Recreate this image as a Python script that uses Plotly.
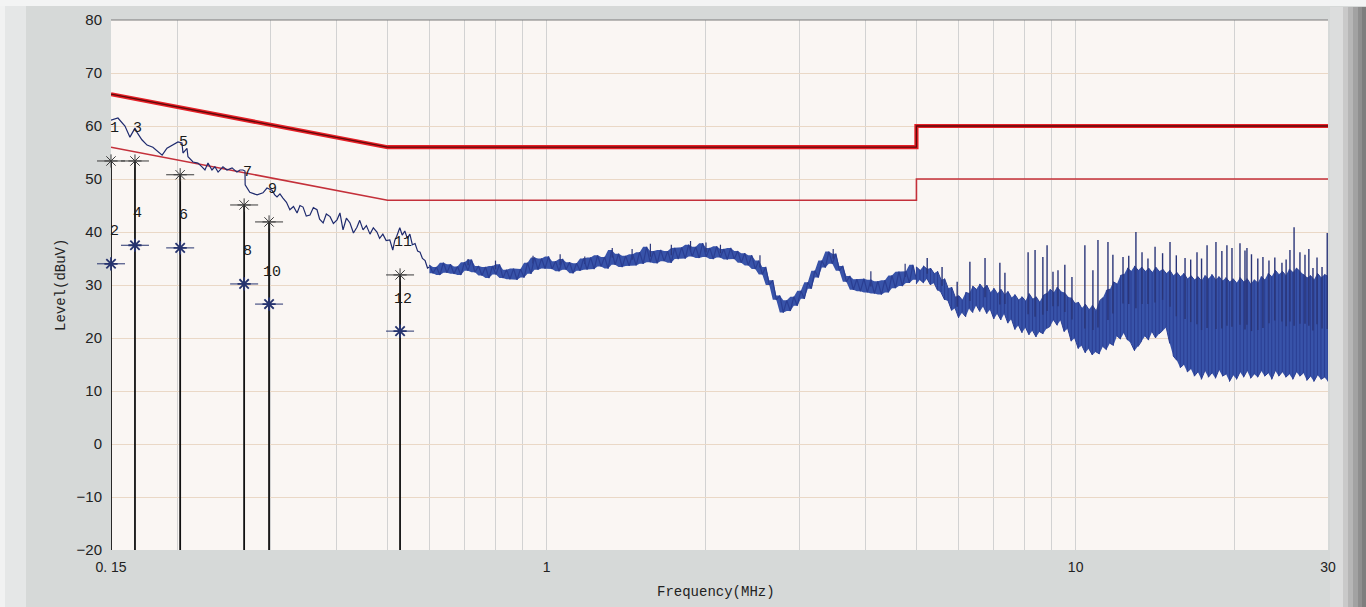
import numpy as np
import plotly.graph_objects as go

# ---- Conducted emission scan, 0.15 - 0.6 MHz (single peak trace) ----
scan_freq = [
    0.150, 0.1546, 0.1594, 0.1629, 0.1665, 0.168, 0.1716, 0.1755, 0.180, 0.1857,
    0.1874, 0.1914, 0.1956, 0.2008, 0.2043, 0.2052, 0.2088, 0.2097, 0.2144, 0.219,
    0.2229, 0.2258, 0.2288, 0.2328, 0.2358, 0.2391, 0.2442, 0.2485, 0.2541, 0.2595,
    0.263, 0.2664, 0.2688, 0.2690, 0.2745, 0.2834, 0.2907, 0.2958, 0.3023, 0.3060,
    0.309, 0.3130, 0.3171, 0.322, 0.3268, 0.332, 0.3372, 0.3415, 0.3461, 0.351,
    0.3567, 0.362, 0.3678, 0.372, 0.3777, 0.383, 0.3893, 0.395, 0.4013, 0.4064,
    0.4119, 0.418, 0.4246, 0.431, 0.4376, 0.443, 0.4494, 0.456, 0.4632, 0.470,
    0.4775, 0.483, 0.4899, 0.497, 0.5049, 0.5115, 0.5160, 0.5204, 0.5274, 0.533,
    0.539, 0.545, 0.551, 0.557, 0.5636, 0.570, 0.576, 0.582, 0.5888, 0.595, 0.600,
]
scan_level = [
    61.1, 61.5, 60.0, 57.9, 59.6, 58.8, 57.4, 56.4, 56.0, 54.9,
    54.5, 55.8, 56.4, 57.0, 56.8, 54.9, 55.8, 54.2, 53.2, 53.0,
    52.3, 51.7, 53.0, 51.7, 52.3, 51.3, 52.3, 51.7, 52.1, 51.3,
    51.7, 51.7, 51.5, 48.9, 47.5, 47.0, 47.4, 48.3, 47.9, 47.0,
    46.6, 47.2, 46.4, 45.6, 44.2, 44.8, 43.6, 45.0, 44.7, 43.0,
    43.2, 44.6, 44.2, 42.4, 41.7, 43.4, 42.9, 41.6, 42.3, 43.6,
    40.4, 42.6, 41.7, 39.8, 40.9, 42.2, 40.4, 41.2, 39.6, 40.8,
    40.0, 38.8, 39.6, 38.4, 38.5, 36.6, 38.4, 39.2, 40.8, 39.4,
    40.2, 38.8, 39.6, 37.6, 37.8, 36.4, 36.2, 35.0, 34.6, 33.2, 33.4,
]

# ---- 0.6 - 5 MHz sweep (one reading per sweep step) ----
mid_level = [
    33.8, 32.2, 33.4, 31.9, 34.2, 32.3, 33.9, 32.1, 33.5, 31.9,
    34.3, 32.7, 34.8, 32.4, 33.6, 31.8, 33.4, 31.3, 33.6, 32.0,
    33.9, 31.3, 32.9, 31.1, 33.1, 31.0, 33.0, 31.4, 34.2, 32.1,
    35.2, 32.9, 35.0, 33.1, 35.4, 33.0, 34.5, 32.6, 34.9, 32.9,
    34.3, 32.2, 34.1, 32.7, 35.0, 32.9, 35.2, 33.0, 35.6, 33.5,
    35.3, 33.1, 36.6, 33.8, 35.9, 33.4, 35.5, 33.6, 35.8, 33.7,
    36.2, 34.0, 37.2, 34.3, 36.4, 34.1, 36.6, 34.5, 36.4, 34.2,
    37.0, 34.9, 37.1, 35.0, 37.6, 35.4, 37.2, 35.1, 37.9, 35.3,
    37.0, 34.9, 37.3, 35.2, 36.8, 34.8, 37.0, 34.9, 36.4, 34.2,
    36.0, 33.7, 35.6, 33.0, 34.6, 32.0, 33.4, 30.0, 30.9, 27.2,
    28.0, 24.8, 27.1, 25.1, 27.8, 26.1, 28.9, 27.4, 30.5, 29.3,
    32.7, 31.4, 34.6, 33.3, 36.3, 34.0, 35.9, 32.7, 33.6, 30.6,
    31.7, 29.1, 31.1, 28.8, 31.2, 28.6, 31.0, 28.4, 30.7, 28.2,
    30.9, 28.6, 31.8, 29.4, 32.5, 29.8, 32.6, 30.4, 33.8, 31.0,
]
mid_freq = np.geomspace(0.6, 5.0, len(mid_level))

# small peaks on the 0.6 - 5 MHz floor
mid_spike_freq = [0.71, 0.80, 0.942, 1.06, 1.18, 1.33, 1.45, 1.57, 1.72, 1.87,
                  2.0, 2.13, 2.53, 3.48, 4.1, 4.76]
mid_spike_peak = [34.9, 34.6, 35.5, 35.8, 35.4, 37.0, 36.8, 37.8, 37.6, 38.3,
                  38.0, 37.6, 35.6, 36.8, 32.6, 34.0]

# ---- 5 - 30 MHz sweep: lower / upper level of each sweep step ----
high_lo = [
    30.2, 31.0, 30.4, 31.2, 30.0, 30.4, 29.0, 28.6, 27.2, 27.0,
    25.2, 25.6, 23.8, 24.8, 24.0, 25.6, 24.8, 26.2, 25.0, 26.0,
    24.6, 25.4, 23.6, 24.6, 23.4, 24.6, 22.8, 23.6, 21.6, 22.4,
    21.0, 22.0, 20.6, 21.4, 20.2, 21.2, 20.8, 21.8, 22.2, 23.4,
    22.4, 23.4, 21.2, 21.8, 19.4, 20.0, 18.0, 18.6, 17.2, 18.0,
    16.8, 17.4, 17.0, 18.4, 17.8, 19.0, 18.6, 20.4, 19.8, 21.0,
    19.6, 19.0, 17.6, 18.4, 19.4, 20.4, 19.6, 21.2, 20.0, 20.8,
    21.4, 22.0, 19.0, 16.6, 15.8, 14.4, 15.0, 13.6, 14.2, 12.8,
    13.6, 12.2, 13.8, 12.6, 13.4, 12.4, 14.0, 12.8, 13.2, 11.8,
    13.0, 12.2, 13.6, 12.6, 13.8, 12.4, 13.2, 12.6, 13.8, 12.8,
    13.4, 12.2, 13.8, 12.8, 13.6, 12.6, 13.2, 12.2, 13.6, 12.8,
    13.4, 12.0, 12.8, 11.8, 13.0, 12.2, 12.6, 11.8,
]
high_hi = [
    33.4, 32.8, 33.6, 33.0, 33.2, 32.2, 32.6, 31.0, 31.2, 29.4,
    29.6, 27.8, 28.0, 27.2, 28.6, 28.4, 29.8, 29.2, 30.2, 29.4,
    30.0, 28.6, 29.4, 28.4, 29.2, 28.2, 28.8, 27.6, 28.2, 27.2,
    27.8, 27.0, 28.4, 27.4, 27.8, 26.8, 28.0, 28.4, 29.2, 28.6,
    29.6, 28.8, 28.6, 27.8, 27.6, 26.6, 26.8, 25.6, 26.4, 25.4,
    26.2, 25.2, 27.0, 27.6, 29.0, 29.2, 30.6, 30.2, 31.8, 32.0,
    33.2, 32.6, 33.6, 32.8, 33.4, 32.6, 33.2, 32.4, 33.4, 32.6,
    33.0, 32.2, 32.8, 31.8, 32.4, 31.6, 32.2, 31.2, 31.8, 31.0,
    31.6, 30.8, 31.8, 31.2, 32.0, 31.0, 31.6, 30.8, 31.4, 30.6,
    31.2, 30.4, 31.4, 30.6, 31.2, 30.2, 31.0, 30.4, 31.6, 31.0,
    32.2, 31.6, 32.8, 32.0, 32.6, 31.8, 33.0, 32.4, 33.2, 32.6,
    32.0, 31.4, 31.8, 31.0, 32.2, 31.4, 32.0, 31.6,
]
high_freq = np.geomspace(5.0, 30.0, len(high_lo))

# ---- narrow-band peaks above the 5 - 30 MHz floor ----
spike_freq = [
    5.24, 5.59, 5.97, 6.31, 6.74, 7.19, 7.35, 8.13, 8.38,
    8.67, 8.83, 9.06, 9.26, 9.54, 9.84, 10.41, 10.78, 11.02, 11.51,
    11.76, 12.29, 12.6, 13.0, 13.35, 13.7, 14.13, 14.6, 15.08, 15.5,
    16.1, 16.5, 16.96, 17.3, 17.72, 18.42, 18.9, 19.32, 19.75, 20.45,
    20.9, 21.08, 21.5, 22.1, 22.6, 23.2, 23.8, 24.55, 25.0, 25.42,
    25.88, 26.55, 27.14, 27.6, 28.1, 28.6, 29.23, 29.9,
]
spike_peak = [
    35.1, 33.4, 30.6, 34.4, 35.1, 34.2, 32.3, 36.2, 36.6,
    35.3, 37.5, 32.5, 32.8, 33.8, 31.5, 37.5, 32.8, 38.5, 38.1,
    35.7, 35.3, 35.5, 40.0, 36.2, 35.0, 37.2, 36.0, 38.1, 35.6,
    35.1, 34.8, 36.2, 35.0, 37.5, 38.1, 36.4, 37.5, 37.0, 37.9,
    36.5, 37.0, 35.8, 35.0, 35.3, 34.6, 35.2, 34.2, 34.8, 36.6,
    40.9, 36.2, 35.7, 36.8, 33.2, 35.2, 33.4, 39.8,
]

# ---- limit lines (quasi-peak and average) ----
limit_freq = [0.15, 0.5, 5.0, 5.0, 30.0]
qp_limit = [66, 56, 56, 60, 60]
av_limit = [56, 46, 46, 50, 50]

# ---- final measurement markers ----
marker_freq = [0.150, 0.1665, 0.2027, 0.2678, 0.2985, 0.528]
marker_qp = [53.4, 53.4, 50.8, 45.1, 41.9, 31.9]
marker_av = [34.0, 37.5, 37.0, 30.2, 26.4, 21.3]
qp_labels = ["1", "3", "5", "7", "9", "11"]
av_labels = ["2", "4", "6", "8", "10", "12"]

# ---- tick labels ----
x_tick_vals = [0.15, 1, 10, 30]
x_tick_text = ["0. 15", "1", "10", "30"]
x_minor_vals = [0.2, 0.3, 0.4, 0.5, 0.6, 0.7, 0.8, 0.9,
                2, 3, 4, 5, 6, 7, 8, 9, 20]

Y_MIN, Y_MAX = -20, 80
TRACE_DARK = "#1f2b6e"
TRACE_BLUE = "#2a3e92"
TRACE_FILL = "#3853a9"
SPIKE = "#2a3578"
MONO = "Liberation Mono, Courier New, monospace"
SANS = "Liberation Sans, Arial, sans-serif"

fig = go.Figure()

# limit lines
fig.add_trace(go.Scatter(x=limit_freq, y=av_limit, mode="lines",
                         line=dict(color="#c4303a", width=1.6), hoverinfo="skip"))
fig.add_trace(go.Scatter(x=limit_freq, y=qp_limit, mode="lines",
                         line=dict(color="#e61f26", width=4.2), hoverinfo="skip"))
fig.add_trace(go.Scatter(x=limit_freq, y=qp_limit, mode="lines",
                         line=dict(color="#5c0a0a", width=1.3), hoverinfo="skip"))


def band(freq, lower, upper):
    """Filled region between two level curves."""
    return go.Scatter(
        x=np.concatenate([freq, freq[::-1]]),
        y=np.concatenate([upper, lower[::-1]]),
        mode="lines", fill="toself", fillcolor=TRACE_FILL,
        line=dict(width=0), hoverinfo="skip")


def spikes(freq, peak, grid, lower, upper, width):
    """Vertical peaks rising from the middle of the band at the nearest step."""
    k = np.abs(np.log(grid)[:, None] - np.log(freq)[None, :]).argmin(axis=0)
    b = (lower[k] + upper[k]) / 2
    xs, ys = [], []
    for f, b0, p in zip(freq, b, peak):
        xs += [f, f, None]
        ys += [b0, p, None]
    return go.Scatter(x=xs, y=ys, mode="lines",
                      line=dict(color=SPIKE, width=width), hoverinfo="skip")


# 0.6 - 5 MHz: band spanned by consecutive readings, then the readings
mid = np.array(mid_level)
nxt = np.append(mid[1:], mid[-1])
mid_lo, mid_hi = np.minimum(mid, nxt), np.maximum(mid, nxt)
fig.add_trace(band(mid_freq, mid_lo, mid_hi))
fig.add_trace(spikes(mid_spike_freq, mid_spike_peak, mid_freq, mid_lo, mid_hi, 1.2))
fig.add_trace(go.Scatter(x=mid_freq, y=mid_level, mode="lines",
                         line=dict(color=TRACE_BLUE, width=1.2), hoverinfo="skip"))

# 5 - 30 MHz: filled between lower and upper level
lo = np.array(high_lo)
hi = np.array(high_hi)
fig.add_trace(band(high_freq, lo, hi))

# texture: vertical excursions between the two levels of each step
pairs = np.column_stack([lo, hi])
pairs[1::2] = pairs[1::2, ::-1]
fig.add_trace(go.Scatter(x=np.repeat(high_freq, 2), y=pairs.ravel(),
                         mode="lines", line=dict(color=TRACE_BLUE, width=1),
                         hoverinfo="skip"))
fig.add_trace(spikes(spike_freq, spike_peak, high_freq, lo, hi, 1.4))

# low-frequency part of the scan
fig.add_trace(go.Scatter(x=scan_freq, y=scan_level, mode="lines",
                         line=dict(color=TRACE_DARK, width=1.2), hoverinfo="skip"))

# marker stems
mx, my = [], []
for f, q in zip(marker_freq, marker_qp):
    mx += [f, f, None]
    my += [Y_MIN, q, None]
fig.add_trace(go.Scatter(x=mx, y=my, mode="lines",
                         line=dict(color="#111111", width=1.8), hoverinfo="skip"))

# quasi-peak and average markers
for vals, col, w in [(marker_qp, "#3a3a3a", 1.0), (marker_av, "#26336e", 1.8)]:
    fig.add_trace(go.Scatter(x=marker_freq, y=vals, mode="markers",
                             marker=dict(symbol="line-ew-open", size=20, color=col,
                                         line=dict(color=col, width=1)),
                             hoverinfo="skip", cliponaxis=False))
    fig.add_trace(go.Scatter(x=marker_freq, y=vals, mode="markers",
                             marker=dict(symbol="asterisk-open", size=11, color=col,
                                         line=dict(color=col, width=w)),
                             hoverinfo="skip", cliponaxis=False))

annotations = []
for f, q, a, tq, ta in zip(marker_freq, marker_qp, marker_av, qp_labels, av_labels):
    for val, txt in [(q, tq), (a, ta)]:
        annotations.append(dict(x=np.log10(f), y=val, xref="x", yref="y",
                                text=txt, showarrow=False, xshift=3, yshift=32,
                                xanchor="center", yanchor="middle",
                                font=dict(family=MONO, size=15, color="#1a1a1a")))

# axis titles
L, R, T, B = 111, 38, 20, 57
W, H = 1366, 607
pw, ph = W - L - R, H - T - B


def px(x):
    return (x - L) / pw


def py(y):
    return (H - B - y) / ph


annotations.append(dict(x=px(61), y=py(285), xref="paper", yref="paper",
                        text="Level(dBuV)", textangle=-90, showarrow=False,
                        xanchor="center", yanchor="middle",
                        font=dict(family=MONO, size=14, color="#222222")))
annotations.append(dict(x=px(716), y=py(592), xref="paper", yref="paper",
                        text="Frequency(MHz)", showarrow=False,
                        xanchor="center", yanchor="middle",
                        font=dict(family=MONO, size=14, color="#222222")))

# window chrome around the plot
shapes = [
    dict(type="rect", xref="paper", yref="paper", x0=px(0), x1=px(26),
         y0=py(W), y1=py(0), fillcolor="#e5e7e7", line_width=0, layer="below"),
    dict(type="rect", xref="paper", yref="paper", x0=px(0), x1=px(5),
         y0=py(W), y1=py(0), fillcolor="#f1f2f2", line_width=0, layer="below"),
    dict(type="rect", xref="paper", yref="paper", x0=px(0), x1=px(W),
         y0=py(6), y1=py(0), fillcolor="#f3f4f4", line_width=0, layer="below"),
    dict(type="line", xref="paper", yref="paper", x0=0, x1=1, y0=1, y1=1,
         line=dict(color="#7a7a7a", width=1.2)),
]
for x0, x1, c in [(1330, 1343, "#dcdddd"), (1343, 1348, "#c9c9c9"),
                  (1348, 1353, "#b6b6b6"), (1353, 1358, "#a2a2a2"),
                  (1358, 1362, "#8f8f8f"), (1362, 1366, "#7e7e7e")]:
    shapes.append(dict(type="rect", xref="paper", yref="paper", x0=px(x0), x1=px(x1),
                       y0=py(W), y1=py(7), fillcolor=c, line_width=0, layer="below"))

fig.update_layout(
    width=W, height=H,
    margin=dict(l=L, r=R, t=T, b=B, pad=0),
    paper_bgcolor="#d6d9d8",
    plot_bgcolor="#faf6f3",
    showlegend=False,
    annotations=annotations,
    shapes=shapes,
)
fig.update_xaxes(
    type="log", range=[np.log10(0.15), np.log10(30)],
    tickmode="array", tickvals=x_tick_vals, ticktext=x_tick_text,
    ticks="", showline=False, zeroline=False,
    showgrid=True, gridcolor="#d2d2d2", gridwidth=1,
    minor=dict(tickmode="array", tickvals=x_minor_vals, showgrid=True,
               gridcolor="#d2d2d2", gridwidth=1, ticks=""),
    tickfont=dict(family=SANS, size=14, color="#222222"),
    ticklabelstandoff=7,
)
fig.update_yaxes(
    range=[Y_MIN, Y_MAX], dtick=10, tick0=0,
    ticks="", showline=False, zeroline=False,
    showgrid=True, gridcolor="#ead8c6", gridwidth=1,
    tickfont=dict(family=SANS, size=15, color="#222222"),
    ticklabelstandoff=8,
)

fig.write_html("out.html")
